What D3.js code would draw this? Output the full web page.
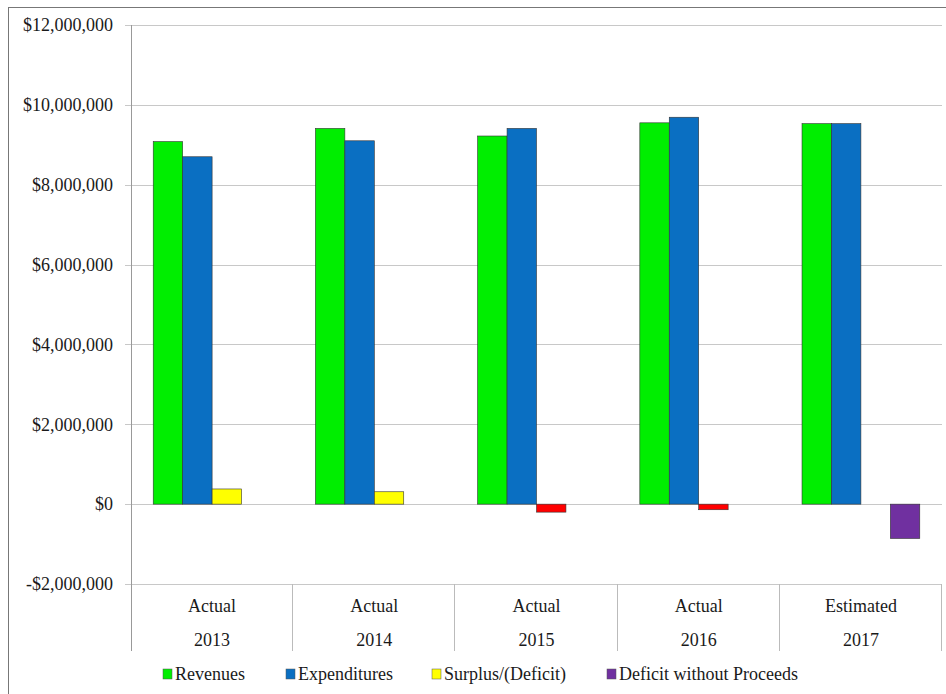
<!DOCTYPE html>
<html>
<head>
<meta charset="utf-8">
<script src="https://cdn.jsdelivr.net/npm/d3@7"></script>
<style>
  html, body { margin: 0; padding: 0; background: #fff; }
  svg { display: block; }
</style>
</head>
<body>
<svg id="chart" width="946" height="694"></svg>
<script>
// Budget summary by fiscal year
const yearStatus = ["Actual", "Actual", "Actual", "Actual", "Estimated"];
const years = ["2013", "2014", "2015", "2016", "2017"];
const seriesNames = ["Revenues", "Expenditures", "Surplus/(Deficit)", "Deficit without Proceeds"];
const revenues = [9080000, 9410000, 9220000, 9550000, 9530000];
const expenditures = [8700000, 9100000, 9410000, 9690000, 9530000];
const surplus = [380000, 310000, -200000, -140000, 0];
const deficitNoProceeds = [0, 0, 0, 0, -860000];
const yTicks = [-2000000, 0, 2000000, 4000000, 6000000, 8000000, 10000000, 12000000];

const seriesColors = ["#00ee00", "#0a6fc2", "#ffff00", "#7030a0"];
const negativeSurplusColor = "#ff0000";
const FONT = "'Liberation Serif', 'Times New Roman', Tinos, 'DejaVu Serif', serif";
const FONT_SIZE = "18px";

const svg = d3.select("#chart");
const W = 946, H = 694;
const plot = { left: 131, right: 942, top: 25, bottom: 584 };
const tableBottom = 651;

// outer frame
svg.append("rect")
  .attr("x", 8.5).attr("y", 7.5).attr("width", W - 8).attr("height", H)
  .attr("fill", "none").attr("stroke", "#777").attr("stroke-width", 1);

const y = d3.scaleLinear().domain([-2000000, 12000000]).range([plot.bottom, plot.top]);
const x0 = d3.scaleBand().domain(years).range([plot.left, plot.right]).padding(0);
const groupPad = x0.bandwidth() * 0.137;
const x1 = d3.scaleBand().domain(seriesNames)
  .range([groupPad, x0.bandwidth() - groupPad]).padding(0);

const fmt = v => (v < 0 ? "-$" : "$") + d3.format(",")(Math.abs(v));

// gridlines
svg.append("g").selectAll("line").data(yTicks).join("line")
  .attr("x1", plot.left - 6).attr("x2", plot.right)
  .attr("y1", d => Math.round(y(d)) + 0.5).attr("y2", d => Math.round(y(d)) + 0.5)
  .attr("stroke", "#c8c8c8").attr("stroke-width", 1);

// y axis
const yAxis = d3.axisLeft(y).tickValues(yTicks).tickFormat(fmt).tickSize(0).tickPadding(18);
const ya = svg.append("g").attr("transform", `translate(${plot.left},0)`).call(yAxis);
ya.select(".domain").remove();
ya.selectAll("text")
  .style("font-family", FONT).style("font-size", FONT_SIZE).style("fill", "#1a1a1a");

// vertical axis line running down through the category table
svg.append("line")
  .attr("x1", plot.left + 0.5).attr("x2", plot.left + 0.5)
  .attr("y1", plot.top).attr("y2", tableBottom)
  .attr("stroke", "#999");

// category table separators
svg.append("g").selectAll("line").data(years.slice(1).concat(["end"])).join("line")
  .attr("x1", d => Math.round(d === "end" ? plot.right : x0(d)) - 0.5)
  .attr("x2", d => Math.round(d === "end" ? plot.right : x0(d)) - 0.5)
  .attr("y1", plot.bottom).attr("y2", tableBottom)
  .attr("stroke", "#bbb");

// category labels
const cat = svg.append("g")
  .selectAll("g").data(years).join("g")
  .attr("transform", d => `translate(${x0(d) + x0.bandwidth() / 2},0)`);
cat.append("text").attr("y", 612).attr("text-anchor", "middle")
  .text((d, i) => yearStatus[i]);
cat.append("text").attr("y", 646).attr("text-anchor", "middle")
  .text(d => d);
cat.selectAll("text")
  .style("font-family", FONT).style("font-size", FONT_SIZE).style("fill", "#1a1a1a");

// bars
const rows = years.map((yr, i) => ({
  year: yr,
  values: [revenues[i], expenditures[i], surplus[i], deficitNoProceeds[i]]
}));
const groups = svg.append("g").selectAll("g").data(rows).join("g")
  .attr("transform", d => `translate(${x0(d.year)},0)`);
groups.selectAll("rect")
  .data(d => d.values.map((v, k) => ({ key: seriesNames[k], k, v })))
  .join("rect")
  .attr("x", d => x1(d.key))
  .attr("width", x1.bandwidth())
  .attr("y", d => y(Math.max(0, d.v)))
  .attr("height", d => Math.abs(y(d.v) - y(0)))
  .attr("fill", d => (d.k === 2 && d.v < 0) ? negativeSurplusColor : seriesColors[d.k])
  .attr("stroke", d => (d.k === 3 && d.v === 0) ? "none" : "#333")
  .attr("stroke-width", 0.6);

// legend
const legendX = [163, 286, 432, 607];
const lg = svg.append("g")
  .selectAll("g").data(seriesNames).join("g")
  .attr("transform", (d, i) => `translate(${legendX[i]},669)`);
lg.append("rect").attr("width", 9).attr("height", 10)
  .attr("fill", (d, i) => seriesColors[i]).attr("stroke", "#555").attr("stroke-width", 0.5);
lg.append("text").attr("x", 12).attr("y", 11)
  .style("font-family", FONT).style("font-size", FONT_SIZE).style("fill", "#1a1a1a")
  .text(d => d);
</script>
</body>
</html>
